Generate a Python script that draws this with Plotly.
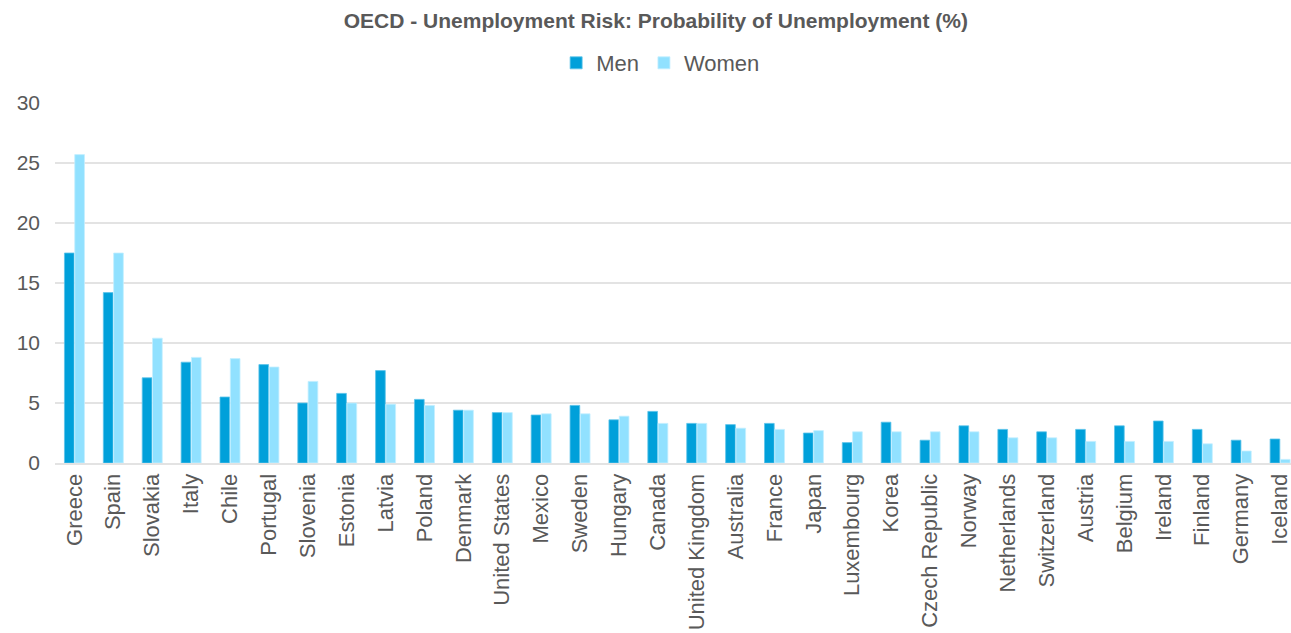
import plotly.graph_objects as go

countries = [
    "Greece", "Spain", "Slovakia", "Italy", "Chile", "Portugal", "Slovenia",
    "Estonia", "Latvia", "Poland", "Denmark", "United States", "Mexico",
    "Sweden", "Hungary", "Canada", "United Kingdom", "Australia", "France",
    "Japan", "Luxembourg", "Korea", "Czech Republic", "Norway", "Netherlands",
    "Switzerland", "Austria", "Belgium", "Ireland", "Finland", "Germany",
    "Iceland",
]
men = [
    17.5, 14.2, 7.1, 8.4, 5.5, 8.2, 5.0,
    5.8, 7.7, 5.3, 4.4, 4.2, 4.0,
    4.8, 3.6, 4.3, 3.3, 3.2, 3.3,
    2.5, 1.7, 3.4, 1.9, 3.1, 2.8,
    2.6, 2.8, 3.1, 3.5, 2.8, 1.9,
    2.0,
]
women = [
    25.7, 17.5, 10.4, 8.8, 8.7, 8.0, 6.8,
    5.0, 4.9, 4.8, 4.4, 4.2, 4.1,
    4.1, 3.9, 3.3, 3.3, 2.9, 2.8,
    2.7, 2.6, 2.6, 2.6, 2.6, 2.1,
    2.1, 1.8, 1.8, 1.8, 1.6, 1.0,
    0.3,
]
y_ticks = [0, 5, 10, 15, 20, 25, 30]

MEN_COLOR = "#00A0DA"
WOMEN_COLOR = "#91E1FF"
TEXT_COLOR = "#595959"
GRID_COLOR = "#E3E3E3"
FONT = "Liberation Sans, Arial, sans-serif"

fig = go.Figure()
fig.add_trace(go.Bar(
    name="Men", x=countries, y=men,
    marker=dict(color=MEN_COLOR, line=dict(color="#5CC3EA", width=0.8)),
))
fig.add_trace(go.Bar(
    name="Women", x=countries, y=women,
    marker=dict(color=WOMEN_COLOR, line=dict(color="#C4EFFF", width=0.8)),
))

fig.update_layout(
    width=1291, height=633,
    margin=dict(l=55, r=0, t=103, b=170),
    paper_bgcolor="white", plot_bgcolor="white",
    font=dict(family=FONT, color=TEXT_COLOR),
    barmode="group", bargap=0.47, bargroupgap=0.06,
    title=dict(
        text="<b>OECD - Unemployment Risk: Probability of Unemployment (%)</b>",
        x=0.508, xanchor="center", y=0.968, yanchor="middle",
        font=dict(size=21, color=TEXT_COLOR, family=FONT),
    ),
    legend=dict(
        orientation="h", x=0.49, xanchor="center", y=1.111, yanchor="middle",
        font=dict(size=22, color=TEXT_COLOR), itemwidth=30,
        traceorder="normal",
    ),
    showlegend=True,
)
fig.update_xaxes(
    range=[-0.5, 31.28], tickangle=-90, automargin=False,
    tickfont=dict(size=22, color=TEXT_COLOR),
    showline=True, linecolor=GRID_COLOR, linewidth=2,
    ticks="", showgrid=False,
)
fig.update_yaxes(
    range=[0, 30], tickvals=y_ticks, automargin=False,
    tickfont=dict(size=21, color=TEXT_COLOR),
    showgrid=True, gridcolor=GRID_COLOR, gridwidth=1.5,
    zeroline=False, ticks="", ticklabelstandoff=14,
)

fig.write_html("out.html")
